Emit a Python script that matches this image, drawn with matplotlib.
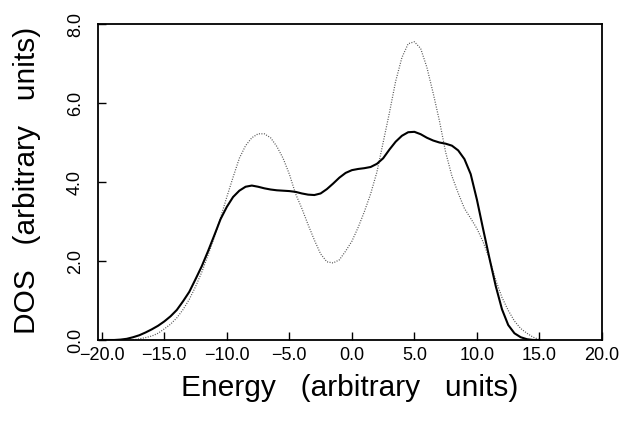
import numpy as np
import matplotlib
matplotlib.use("Agg")
import matplotlib.pyplot as plt

# Energy grid and DOS values
energy_solid = [-20.0, -19.0, -18.5, -18.0, -17.5, -17.0, -16.5, -16.0, -15.5, -15.0,
                -14.5, -14.0, -13.5, -13.0, -12.5, -12.0, -11.5, -11.0, -10.5, -10.0,
                -9.5, -9.0, -8.5, -8.0, -7.5, -7.0, -6.5, -6.0, -5.5, -5.0,
                -4.5, -4.0, -3.5, -3.0, -2.5, -2.0, -1.5, -1.0, -0.5, 0.0,
                0.5, 1.0, 1.5, 2.0, 2.5, 3.0, 3.5, 4.0, 4.5, 5.0,
                5.5, 6.0, 6.5, 7.0, 7.5, 8.0, 8.5, 9.0, 9.5, 10.0,
                10.5, 11.0, 11.5, 12.0, 12.5, 13.0, 13.5, 14.0, 14.5, 15.0]
dos_solid = [0.0, 0.0, 0.01, 0.03, 0.07, 0.12, 0.19, 0.27, 0.36, 0.47,
             0.60, 0.76, 0.98, 1.22, 1.54, 1.87, 2.25, 2.65, 3.06, 3.37,
             3.62, 3.78, 3.88, 3.91, 3.88, 3.84, 3.81, 3.79, 3.78, 3.77,
             3.75, 3.71, 3.68, 3.67, 3.71, 3.82, 3.96, 4.11, 4.23, 4.30,
             4.33, 4.35, 4.38, 4.46, 4.60, 4.82, 5.02, 5.17, 5.26, 5.27,
             5.21, 5.12, 5.05, 5.00, 4.97, 4.92, 4.80, 4.58, 4.20, 3.55,
             2.80, 2.07, 1.37, 0.78, 0.38, 0.17, 0.07, 0.02, 0.0, 0.0]

energy_dot = [-17.5, -17.0, -16.5, -16.0, -15.5, -15.0,
              -14.5, -14.0, -13.5, -13.0, -12.5, -12.0, -11.5, -11.0, -10.5, -10.0,
              -9.5, -9.0, -8.5, -8.0, -7.5, -7.0, -6.5, -6.0, -5.5, -5.0,
              -4.5, -4.0, -3.5, -3.0, -2.5, -2.0, -1.5, -1.0, -0.5, 0.0,
              0.5, 1.0, 1.5, 2.0, 2.5, 3.0, 3.5, 4.0, 4.5, 5.0,
              5.5, 6.0, 6.5, 7.0, 7.5, 8.0, 8.5, 9.0, 9.5, 10.0,
              10.5, 11.0, 11.5, 12.0, 12.5, 13.0, 13.5, 14.0, 14.5, 15.0]
dos_dot = [0.0, 0.03, 0.06, 0.10, 0.17, 0.28,
           0.40, 0.56, 0.77, 1.03, 1.35, 1.72, 2.15, 2.60, 3.10, 3.62,
           4.12, 4.60, 4.92, 5.12, 5.22, 5.22, 5.12, 4.90, 4.60, 4.20,
           3.70, 3.33, 2.92, 2.53, 2.18, 1.98, 1.95, 2.03, 2.25, 2.50,
           2.85, 3.25, 3.70, 4.25, 5.00, 5.75, 6.55, 7.15, 7.50, 7.55,
           7.38, 6.90, 6.25, 5.55, 4.75, 4.15, 3.72, 3.33, 3.08, 2.82,
           2.48, 2.05, 1.52, 1.08, 0.75, 0.48, 0.29, 0.17, 0.07, 0.01]

xticks = [-20, -15, -10, -5, 0, 5, 10, 15, 20]
yticks = [0, 2, 4, 6, 8]

tick_font = ['Liberation Sans Narrow', 'Liberation Sans', 'DejaVu Sans']
label_font = ['Liberation Sans', 'DejaVu Sans']

fig = plt.figure(figsize=(6.34, 4.23), dpi=100)
ax = fig.add_axes([98 / 634, 83 / 423, 504 / 634, 316 / 423])

ax.plot(energy_dot, dos_dot, color='#555555', linestyle=(0, (0.8, 1.2)), linewidth=0.9)
ax.plot(energy_solid, dos_solid, color='black', linewidth=1.5)

ax.set_xlim(-20.3, 20)
ax.set_ylim(0, 8)
ax.set_xticks(xticks)
ax.set_yticks(yticks)
ax.set_xticklabels([f"{v:.1f}".replace('-', '\u2212') for v in xticks],
                   family=tick_font, fontsize=13)
ax.set_yticklabels([f"{v:.1f}" for v in yticks], family=tick_font, fontsize=13,
                   rotation=90, va='center')
ax.tick_params(direction='in', length=6, width=1.0)
ax.tick_params(axis='x', pad=5)
ax.tick_params(axis='y', pad=10)
for s in ax.spines.values():
    s.set_linewidth(1.3)

fig.text(350 / 634, 1 - 388 / 423, "Energy   (arbitrary   units)", family=label_font,
         fontsize=21.5, ha='center', va='center')
fig.text(27 / 634, 1 - 180 / 423, "DOS   (arbitrary   units)", family=label_font,
         fontsize=21.5, ha='center', va='center', rotation=90)

fig.savefig("out.png", dpi=100)
